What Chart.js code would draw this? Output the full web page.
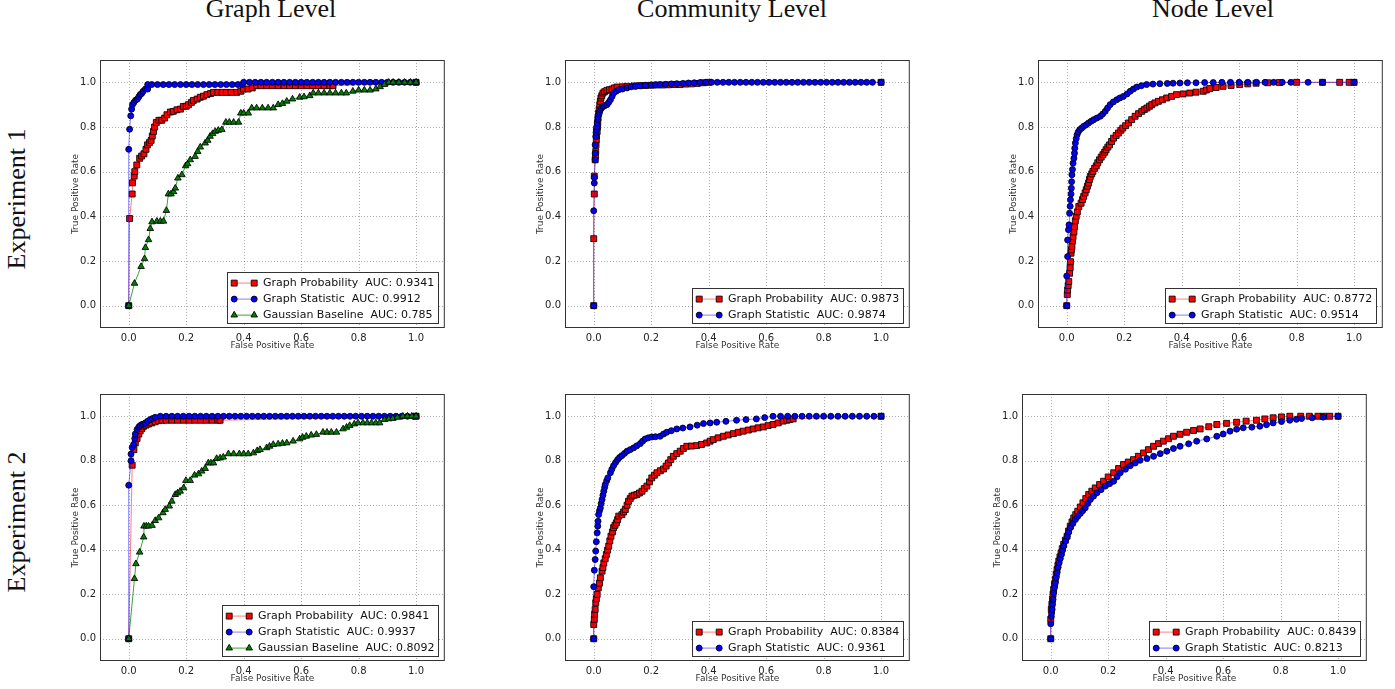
<!DOCTYPE html>
<html>
<head>
<meta charset="utf-8">
<script src="https://cdn.jsdelivr.net/npm/chart.js@4.4.1/dist/chart.umd.min.js"></script>
<style>
  html, body { margin: 0; padding: 0; background: #fff; }
  body { width: 1395px; height: 689px; position: relative; overflow: hidden; }
  canvas { position: absolute; }
  .colTitle, .rowTitle {
    position: absolute; font-family: "Liberation Serif", "Times New Roman", serif;
    font-size: 26px; line-height: 26px; color: #111; white-space: nowrap;
  }
  .colTitle { transform: translateX(-50%); }
  .rowTitle { transform: translate(-50%, -50%) rotate(-90deg); }
</style>
</head>
<body>
<script>
// axis ticks, shared by every panel
const tickVals = [0, 0.2, 0.4, 0.6, 0.8, 1.0];
const tickLabels = ['0.0', '0.2', '0.4', '0.6', '0.8', '1.0'];

const colTitles = ['Graph Level', 'Community Level', 'Node Level'];
const rowTitles = ['Experiment 1', 'Experiment 2'];
const seriesNames = ['Graph Probability', 'Graph Statistic', 'Gaussian Baseline'];

// AUC per panel (legend text)
const aucGraph1 = ['0.9341', '0.9912', '0.785'];
const aucComm1 = ['0.9873', '0.9874'];
const aucNode1 = ['0.8772', '0.9514'];
const aucGraph2 = ['0.9841', '0.9937', '0.8092'];
const aucComm2 = ['0.8384', '0.9361'];
const aucNode2 = ['0.8439', '0.8213'];

// ROC points [fpr, tpr]
const graphProb1 = [[0,0],[0.003,0.39],[0.012,0.50],[0.013,0.55],[0.019,0.58],[0.021,0.60],[0.028,0.63],[0.038,0.66],[0.045,0.67],[0.053,0.68],[0.06,0.70],[0.065,0.72],[0.072,0.73],[0.078,0.74],[0.082,0.76],[0.086,0.78],[0.09,0.80],[0.096,0.82],[0.105,0.83],[0.115,0.83],[0.125,0.84],[0.133,0.855],[0.145,0.867],[0.155,0.87],[0.168,0.877],[0.18,0.88],[0.19,0.892],[0.2,0.893],[0.208,0.9],[0.218,0.91],[0.225,0.919],[0.238,0.925],[0.249,0.933],[0.26,0.938],[0.272,0.945],[0.285,0.95],[0.295,0.955],[0.31,0.955],[0.325,0.955],[0.34,0.955],[0.355,0.955],[0.376,0.955],[0.39,0.96],[0.399,0.97],[0.415,0.97],[0.43,0.975],[0.445,0.985],[0.46,0.985],[0.48,0.985],[0.5,0.985],[0.52,0.985],[0.54,0.985],[0.56,0.985],[0.58,0.985],[0.6,0.985],[0.62,0.985],[0.64,0.985],[0.66,0.985],[0.68,0.985],[0.7,0.985],[0.711,0.985],[1,1]];
const graphStat1 = [[0,0],[0,0.70],[0.003,0.79],[0.007,0.85],[0.01,0.88],[0.013,0.90],[0.018,0.91],[0.024,0.92],[0.03,0.925],[0.035,0.935],[0.04,0.945],[0.045,0.95],[0.05,0.96],[0.058,0.97],[0.066,0.97],[0.066,0.99],[0.08,0.99],[0.1,0.99],[0.12,0.99],[0.14,0.99],[0.16,0.99],[0.18,0.99],[0.2,0.99],[0.22,0.99],[0.24,0.99],[0.26,0.99],[0.28,0.99],[0.3,0.99],[0.32,0.99],[0.34,0.99],[0.36,0.99],[0.38,0.99],[0.395,0.99],[0.4,1],[0.42,1],[0.44,1],[0.46,1],[0.48,1],[0.5,1],[0.52,1],[0.54,1],[0.56,1],[0.58,1],[0.6,1],[0.62,1],[0.64,1],[0.66,1],[0.68,1],[0.7,1],[0.72,1],[0.74,1],[0.76,1],[0.78,1],[0.8,1],[0.82,1],[0.84,1],[0.86,1],[0.88,1],[0.9,1],[0.92,1],[0.94,1],[0.96,1],[0.98,1],[1,1]];
const gaussBase1 = [[0,0],[0.02,0.10],[0.043,0.175],[0.055,0.21],[0.058,0.26],[0.069,0.295],[0.075,0.345],[0.081,0.375],[0.098,0.378],[0.11,0.378],[0.121,0.378],[0.131,0.426],[0.138,0.50],[0.147,0.50],[0.156,0.51],[0.162,0.526],[0.171,0.571],[0.185,0.586],[0.198,0.626],[0.205,0.635],[0.214,0.653],[0.231,0.668],[0.24,0.69],[0.249,0.71],[0.266,0.728],[0.275,0.74],[0.283,0.758],[0.292,0.77],[0.301,0.78],[0.312,0.785],[0.324,0.788],[0.338,0.821],[0.35,0.821],[0.365,0.821],[0.382,0.821],[0.39,0.862],[0.4,0.862],[0.416,0.862],[0.428,0.885],[0.445,0.885],[0.465,0.885],[0.485,0.885],[0.503,0.885],[0.52,0.9],[0.535,0.905],[0.55,0.915],[0.57,0.925],[0.595,0.933],[0.61,0.935],[0.63,0.94],[0.642,0.952],[0.66,0.952],[0.68,0.952],[0.7,0.952],[0.72,0.952],[0.74,0.952],[0.757,0.952],[0.78,0.96],[0.8,0.965],[0.82,0.965],[0.84,0.965],[0.86,0.97],[0.875,0.98],[0.89,0.99],[0.905,1],[0.92,1],[0.94,1],[0.96,1],[0.98,1],[1,1]];

const commProb1 = [[0,0],[0,0.30],[0.002,0.50],[0.002,0.58],[0.005,0.653],[0.006,0.67],[0.007,0.69],[0.008,0.72],[0.009,0.743],[0.01,0.76],[0.012,0.78],[0.013,0.80],[0.014,0.818],[0.015,0.84],[0.017,0.862],[0.019,0.88],[0.021,0.9],[0.023,0.915],[0.025,0.93],[0.028,0.94],[0.032,0.952],[0.038,0.958],[0.046,0.964],[0.055,0.967],[0.064,0.97],[0.072,0.975],[0.081,0.979],[0.1,0.98],[0.116,0.982],[0.14,0.984],[0.16,0.985],[0.18,0.986],[0.2,0.987],[0.22,0.988],[0.24,0.988],[0.26,0.989],[0.28,0.99],[0.3,0.99],[0.32,0.992],[0.34,0.993],[0.36,0.995],[0.38,0.998],[0.4,1],[1,1]];
const commStat1 = [[0,0],[0,0.425],[0.002,0.549],[0.002,0.575],[0.005,0.653],[0.005,0.683],[0.005,0.72],[0.007,0.758],[0.008,0.775],[0.009,0.788],[0.01,0.8],[0.012,0.818],[0.014,0.833],[0.015,0.845],[0.017,0.855],[0.02,0.865],[0.023,0.877],[0.027,0.885],[0.032,0.892],[0.038,0.895],[0.046,0.9],[0.052,0.91],[0.058,0.922],[0.064,0.937],[0.069,0.952],[0.078,0.96],[0.087,0.967],[0.1,0.97],[0.116,0.975],[0.13,0.98],[0.145,0.982],[0.162,0.985],[0.18,0.987],[0.2,0.988],[0.215,0.989],[0.231,0.99],[0.25,0.991],[0.27,0.993],[0.289,0.994],[0.31,0.995],[0.33,0.997],[0.35,0.998],[0.37,0.999],[0.39,1],[0.41,1],[0.43,1],[0.45,1],[0.47,1],[0.49,1],[0.51,1],[0.53,1],[0.55,1],[0.57,1],[0.59,1],[0.61,1],[0.63,1],[0.65,1],[0.67,1],[0.69,1],[0.71,1],[0.73,1],[0.75,1],[0.77,1],[0.79,1],[0.81,1],[0.83,1],[0.85,1],[0.87,1],[0.89,1],[0.91,1],[0.93,1],[0.95,1],[0.97,1],[1,1]];

const nodeProb1 = [[0,0],[0.002,0.05],[0.003,0.07],[0.005,0.09],[0.007,0.108],[0.01,0.145],[0.012,0.17],[0.013,0.197],[0.015,0.235],[0.016,0.25],[0.018,0.265],[0.02,0.29],[0.022,0.309],[0.025,0.33],[0.027,0.354],[0.03,0.38],[0.033,0.4],[0.037,0.42],[0.042,0.444],[0.05,0.459],[0.055,0.475],[0.059,0.489],[0.064,0.505],[0.068,0.519],[0.072,0.535],[0.076,0.549],[0.079,0.565],[0.082,0.578],[0.087,0.59],[0.091,0.601],[0.097,0.615],[0.103,0.626],[0.108,0.64],[0.114,0.653],[0.12,0.665],[0.126,0.676],[0.132,0.687],[0.137,0.698],[0.143,0.71],[0.149,0.72],[0.156,0.735],[0.163,0.75],[0.172,0.762],[0.18,0.773],[0.188,0.785],[0.195,0.795],[0.205,0.806],[0.215,0.818],[0.226,0.833],[0.238,0.848],[0.25,0.86],[0.261,0.87],[0.27,0.878],[0.279,0.885],[0.288,0.893],[0.296,0.9],[0.307,0.908],[0.319,0.915],[0.333,0.922],[0.348,0.93],[0.365,0.937],[0.382,0.945],[0.405,0.948],[0.428,0.952],[0.45,0.956],[0.475,0.96],[0.486,0.966],[0.498,0.972],[0.52,0.977],[0.544,0.982],[0.572,0.986],[0.602,0.99],[0.63,0.993],[0.659,0.996],[0.7,0.998],[0.74,0.999],[0.8,1],[0.89,1],[0.95,1],[0.983,1],[1,1]];
const nodeStat1 = [[0,0],[0,0.133],[0.003,0.22],[0.003,0.294],[0.006,0.34],[0.008,0.362],[0.01,0.414],[0.012,0.445],[0.013,0.474],[0.015,0.5],[0.016,0.526],[0.017,0.555],[0.018,0.586],[0.02,0.61],[0.022,0.638],[0.025,0.66],[0.027,0.683],[0.028,0.705],[0.03,0.728],[0.033,0.748],[0.036,0.765],[0.04,0.778],[0.045,0.788],[0.052,0.795],[0.059,0.803],[0.068,0.81],[0.076,0.818],[0.085,0.826],[0.094,0.833],[0.105,0.84],[0.117,0.848],[0.125,0.858],[0.134,0.87],[0.142,0.885],[0.151,0.9],[0.162,0.912],[0.174,0.922],[0.185,0.93],[0.197,0.937],[0.21,0.948],[0.221,0.96],[0.232,0.97],[0.244,0.979],[0.26,0.985],[0.278,0.99],[0.3,0.992],[0.324,0.994],[0.35,0.995],[0.37,0.996],[0.394,0.997],[0.42,0.998],[0.45,0.998],[0.48,0.999],[0.51,0.999],[0.54,1],[0.57,1],[0.6,1],[0.63,1],[0.66,1],[0.69,1],[0.72,1],[0.75,1],[0.78,1],[0.84,1],[0.89,1],[1,1]];

const graphProb2 = [[0,0],[0.012,0.78],[0.018,0.85],[0.023,0.88],[0.029,0.9],[0.035,0.92],[0.04,0.935],[0.046,0.945],[0.052,0.955],[0.06,0.96],[0.069,0.965],[0.08,0.97],[0.092,0.975],[0.104,0.98],[0.116,0.982],[0.13,0.982],[0.15,0.982],[0.17,0.982],[0.19,0.982],[0.21,0.982],[0.23,0.982],[0.25,0.982],[0.27,0.982],[0.29,0.982],[0.31,0.982],[0.318,0.982],[1,1]];
const graphStat2 = [[0,0],[0,0.69],[0.008,0.8],[0.008,0.83],[0.012,0.86],[0.017,0.873],[0.021,0.9],[0.023,0.92],[0.029,0.94],[0.035,0.952],[0.04,0.958],[0.046,0.963],[0.052,0.965],[0.058,0.97],[0.066,0.978],[0.075,0.985],[0.083,0.99],[0.092,0.995],[0.11,1],[0.13,1],[0.15,1],[0.17,1],[0.19,1],[0.21,1],[0.23,1],[0.25,1],[0.27,1],[0.29,1],[0.31,1],[0.33,1],[0.35,1],[0.37,1],[0.39,1],[0.41,1],[0.43,1],[0.45,1],[0.47,1],[0.49,1],[0.51,1],[0.53,1],[0.55,1],[0.57,1],[0.59,1],[0.61,1],[0.63,1],[0.65,1],[0.67,1],[0.69,1],[0.71,1],[0.73,1],[0.75,1],[0.77,1],[0.79,1],[0.81,1],[0.83,1],[0.85,1],[0.87,1],[0.89,1],[0.91,1],[0.93,1],[0.95,1],[0.97,1],[0.99,1],[1,1]];
const gaussBase2 = [[0,0],[0.02,0.27],[0.025,0.337],[0.038,0.389],[0.052,0.457],[0.053,0.506],[0.061,0.506],[0.069,0.506],[0.081,0.509],[0.092,0.531],[0.104,0.543],[0.119,0.566],[0.127,0.581],[0.141,0.596],[0.15,0.618],[0.162,0.648],[0.17,0.655],[0.179,0.663],[0.191,0.678],[0.199,0.711],[0.214,0.711],[0.229,0.735],[0.243,0.741],[0.254,0.753],[0.266,0.765],[0.277,0.79],[0.286,0.79],[0.295,0.79],[0.306,0.81],[0.318,0.812],[0.329,0.816],[0.347,0.831],[0.365,0.831],[0.385,0.831],[0.4,0.831],[0.416,0.831],[0.434,0.835],[0.447,0.845],[0.457,0.85],[0.48,0.858],[0.49,0.865],[0.503,0.873],[0.52,0.875],[0.535,0.878],[0.55,0.88],[0.572,0.888],[0.595,0.898],[0.605,0.905],[0.618,0.91],[0.635,0.915],[0.653,0.918],[0.676,0.928],[0.69,0.928],[0.705,0.928],[0.723,0.928],[0.746,0.943],[0.758,0.95],[0.769,0.958],[0.785,0.965],[0.798,0.97],[0.815,0.97],[0.83,0.97],[0.845,0.97],[0.86,0.97],[0.873,0.97],[0.89,0.985],[0.905,0.988],[0.919,0.99],[0.935,0.995],[0.954,1],[0.97,1],[0.985,1],[1,1]];

const commProb2 = [[0,0],[0,0.064],[0.002,0.087],[0.003,0.11],[0.005,0.132],[0.007,0.162],[0.009,0.18],[0.012,0.199],[0.016,0.229],[0.02,0.25],[0.023,0.274],[0.029,0.304],[0.032,0.32],[0.035,0.341],[0.04,0.36],[0.044,0.379],[0.048,0.398],[0.052,0.416],[0.056,0.44],[0.06,0.461],[0.065,0.48],[0.069,0.499],[0.074,0.51],[0.079,0.521],[0.083,0.535],[0.087,0.551],[0.098,0.558],[0.104,0.57],[0.11,0.581],[0.116,0.6],[0.121,0.618],[0.127,0.63],[0.133,0.641],[0.141,0.645],[0.15,0.648],[0.159,0.655],[0.168,0.663],[0.176,0.675],[0.185,0.686],[0.194,0.705],[0.202,0.723],[0.211,0.735],[0.22,0.746],[0.232,0.755],[0.243,0.763],[0.252,0.776],[0.26,0.79],[0.268,0.805],[0.277,0.82],[0.289,0.832],[0.301,0.843],[0.312,0.855],[0.324,0.865],[0.34,0.866],[0.358,0.868],[0.375,0.873],[0.393,0.88],[0.405,0.888],[0.416,0.895],[0.433,0.903],[0.451,0.91],[0.468,0.916],[0.486,0.922],[0.503,0.928],[0.52,0.933],[0.538,0.938],[0.555,0.943],[0.572,0.948],[0.59,0.952],[0.607,0.958],[0.624,0.963],[0.642,0.97],[0.659,0.978],[0.672,0.982],[0.682,0.985],[0.694,0.988],[1,1]];
const commStat2 = [[0,0],[0,0.234],[0.002,0.308],[0.005,0.356],[0.007,0.394],[0.009,0.436],[0.012,0.476],[0.014,0.506],[0.015,0.528],[0.017,0.558],[0.02,0.575],[0.023,0.588],[0.026,0.608],[0.029,0.626],[0.032,0.645],[0.035,0.663],[0.038,0.68],[0.04,0.693],[0.045,0.71],[0.049,0.723],[0.058,0.746],[0.063,0.762],[0.069,0.778],[0.076,0.792],[0.083,0.805],[0.09,0.815],[0.098,0.823],[0.107,0.833],[0.116,0.843],[0.127,0.85],[0.139,0.858],[0.15,0.867],[0.162,0.877],[0.17,0.888],[0.179,0.898],[0.19,0.903],[0.202,0.907],[0.215,0.908],[0.231,0.91],[0.243,0.92],[0.254,0.928],[0.27,0.935],[0.289,0.943],[0.31,0.947],[0.335,0.952],[0.36,0.96],[0.382,0.967],[0.405,0.97],[0.428,0.973],[0.46,0.977],[0.497,0.982],[0.53,0.985],[0.566,0.988],[0.595,0.994],[0.624,1],[0.65,1],[0.675,1],[0.7,1],[0.725,1],[0.75,1],[0.775,1],[0.8,1],[0.825,1],[0.85,1],[0.875,1],[0.9,1],[0.925,1],[0.95,1],[0.975,1],[1,1]];

const nodeProb2 = [[0,0],[0,0.087],[0.002,0.132],[0.004,0.155],[0.006,0.177],[0.008,0.2],[0.01,0.222],[0.013,0.245],[0.016,0.266],[0.019,0.29],[0.022,0.311],[0.025,0.33],[0.028,0.349],[0.032,0.368],[0.036,0.386],[0.04,0.405],[0.045,0.424],[0.051,0.443],[0.057,0.461],[0.062,0.484],[0.068,0.506],[0.074,0.525],[0.08,0.543],[0.087,0.558],[0.094,0.573],[0.103,0.592],[0.112,0.611],[0.122,0.63],[0.132,0.648],[0.143,0.663],[0.155,0.678],[0.17,0.693],[0.184,0.708],[0.2,0.727],[0.219,0.746],[0.236,0.765],[0.253,0.783],[0.27,0.794],[0.288,0.805],[0.305,0.82],[0.323,0.835],[0.34,0.85],[0.358,0.865],[0.375,0.877],[0.392,0.888],[0.41,0.899],[0.427,0.91],[0.45,0.919],[0.473,0.928],[0.497,0.936],[0.52,0.943],[0.55,0.953],[0.578,0.963],[0.612,0.968],[0.647,0.973],[0.68,0.978],[0.716,0.982],[0.745,0.988],[0.774,0.993],[0.803,0.997],[0.832,1],[0.87,1],[0.9,1],[0.93,1],[0.95,1],[0.971,1],[1,1]];
const nodeStat2 = [[0,0],[0,0.067],[0.002,0.1],[0.003,0.115],[0.005,0.132],[0.006,0.155],[0.008,0.177],[0.01,0.207],[0.013,0.23],[0.016,0.251],[0.019,0.275],[0.022,0.296],[0.025,0.32],[0.029,0.341],[0.033,0.36],[0.037,0.379],[0.041,0.398],[0.045,0.416],[0.051,0.44],[0.057,0.461],[0.062,0.48],[0.068,0.499],[0.077,0.518],[0.086,0.536],[0.094,0.55],[0.103,0.563],[0.111,0.575],[0.12,0.588],[0.129,0.608],[0.138,0.626],[0.149,0.641],[0.161,0.656],[0.175,0.67],[0.19,0.686],[0.205,0.697],[0.219,0.708],[0.231,0.728],[0.242,0.746],[0.26,0.762],[0.277,0.778],[0.294,0.79],[0.311,0.802],[0.335,0.81],[0.358,0.82],[0.381,0.832],[0.404,0.843],[0.427,0.855],[0.45,0.865],[0.48,0.876],[0.508,0.888],[0.543,0.898],[0.578,0.91],[0.6,0.92],[0.624,0.933],[0.647,0.942],[0.67,0.948],[0.7,0.951],[0.728,0.955],[0.751,0.962],[0.774,0.97],[0.803,0.976],[0.832,0.982],[0.855,0.986],[0.873,0.99],[0.91,0.993],[0.948,0.996],[1,1]];

// look of each series: red squares, blue circles, green triangles
const styles = [
  { line: 'rgba(255,0,0,0.5)', fill: '#ff0000', shape: 'rect', r: 4.2, order: 3 },
  { line: 'rgba(0,0,255,0.5)', fill: '#0000ff', shape: 'circle', r: 3, order: 2 },
  { line: 'rgba(0,128,0,0.75)', fill: '#008000', shape: 'triangle', r: 3.8, order: 1 }
];
const edgeColor = 'rgba(0,0,0,0.85)';

// where each panel sits on the page (canvas left/top)
const panels = [
  { left: 60,  top: 50,  h: 306, series: [graphProb1, graphStat1, gaussBase1], auc: aucGraph1 },
  { left: 525, top: 50,  h: 306, series: [commProb1, commStat1], auc: aucComm1 },
  { left: 998, top: 50,  h: 306, series: [nodeProb1, nodeStat1], auc: aucNode1 },
  { left: 60,  top: 384, h: 305, series: [graphProb2, graphStat2, gaussBase2], auc: aucGraph2 },
  { left: 525, top: 384, h: 305, series: [commProb2, commStat2], auc: aucComm2 },
  { left: 982, top: 384, h: 305, series: [nodeProb2, nodeStat2], auc: aucNode2 }
];

Chart.defaults.font.family = '"DejaVu Sans", sans-serif';
Chart.defaults.color = '#222';

const FONT = '"DejaVu Sans", sans-serif';

function drawMarker(ctx, shape, r, x, y, st) {
  ctx.fillStyle = st.fill;
  ctx.strokeStyle = edgeColor;
  ctx.lineWidth = 1;
  ctx.beginPath();
  if (shape === 'rect') {
    const s = r * Math.SQRT1_2;
    ctx.rect(x - s, y - s, 2 * s, 2 * s);
  } else if (shape === 'circle') {
    ctx.arc(x, y, r, 0, Math.PI * 2);
  } else {
    ctx.moveTo(x, y - r);
    ctx.lineTo(x + r * 0.866, y + r * 0.5);
    ctx.lineTo(x - r * 0.866, y + r * 0.5);
    ctx.closePath();
  }
  ctx.fill();
  ctx.stroke();
}

const gridPlugin = {
  id: 'dotGrid',
  beforeDatasetsDraw(chart) {
    const { ctx, chartArea: a, scales } = chart;
    ctx.save();
    ctx.strokeStyle = 'rgba(0,0,0,0.4)';
    ctx.lineWidth = 0.8;
    ctx.setLineDash([1, 2]);
    tickVals.forEach(v => {
      const x = Math.round(scales.x.getPixelForValue(v)) + 0.5;
      const y = Math.round(scales.y.getPixelForValue(v)) + 0.5;
      ctx.beginPath(); ctx.moveTo(x, a.top); ctx.lineTo(x, a.bottom); ctx.stroke();
      ctx.beginPath(); ctx.moveTo(a.left, y); ctx.lineTo(a.right, y); ctx.stroke();
    });
    ctx.restore();
  }
};

const framePlugin = {
  id: 'frameLegend',
  afterDraw(chart) {
    const { ctx, chartArea: a } = chart;
    ctx.save();
    // axes box
    ctx.strokeStyle = '#333';
    ctx.lineWidth = 1;
    ctx.strokeRect(a.left + 0.5, a.top + 0.5, a.right - a.left - 1, a.bottom - a.top - 1);

    // axis titles
    ctx.fillStyle = '#333';
    ctx.font = '9px ' + FONT;
    ctx.textAlign = 'center';
    ctx.textBaseline = 'middle';
    ctx.fillText('False Positive Rate', (a.left + a.right) / 2, a.bottom + 18);
    ctx.save();
    ctx.translate(a.left - 24, (a.top + a.bottom) / 2);
    ctx.rotate(-Math.PI / 2);
    ctx.fillText('True Positive Rate', 0, 0);
    ctx.restore();

    // legend, lower right
    const sets = chart.data.datasets;
    ctx.font = '11px ' + FONT;
    let tw = 0;
    sets.forEach(d => { tw = Math.max(tw, ctx.measureText(d.label).width); });
    const w = 6.7 + 20 + 8.7 + tw + 4.3;
    const h = 10.6 + 16 * (sets.length - 1) + 8;
    const lx = Math.round(a.right - 6.5 - w) + 0.5;
    const ly = Math.round(a.bottom - 5.7 - h) + 0.5;
    ctx.fillStyle = '#fff';
    ctx.fillRect(lx, ly, w, h);
    ctx.strokeStyle = '#333';
    ctx.lineWidth = 1;
    ctx.strokeRect(lx, ly, Math.round(w), Math.round(h));
    sets.forEach((d, i) => {
      const st = styles[i];
      const cy = ly + 10.6 + 16 * i;
      const x0 = lx + 6.7, x1 = x0 + 20;
      ctx.strokeStyle = st.line;
      ctx.lineWidth = 1;
      ctx.beginPath(); ctx.moveTo(x0, cy); ctx.lineTo(x1, cy); ctx.stroke();
      drawMarker(ctx, st.shape, st.r, x0, cy, st);
      drawMarker(ctx, st.shape, st.r, x1, cy, st);
      ctx.fillStyle = '#111';
      ctx.textAlign = 'left';
      ctx.textBaseline = 'middle';
      ctx.fillText(d.label, x1 + 8.7, cy + 0.5);
    });
    ctx.restore();
  }
};

function makePanel(p) {
  const cv = document.createElement('canvas');
  cv.width = 390;
  cv.height = p.h;
  cv.style.left = p.left + 'px';
  cv.style.top = p.top + 'px';
  cv.style.width = '390px';
  cv.style.height = p.h + 'px';
  document.body.appendChild(cv);

  const datasets = p.series.map((pts, i) => ({
    label: seriesNames[i] + '  AUC: ' + p.auc[i],
    data: pts,
    showLine: true,
    borderColor: styles[i].line,
    borderWidth: 1,
    backgroundColor: styles[i].fill,
    pointBackgroundColor: styles[i].fill,
    pointBorderColor: edgeColor,
    pointBorderWidth: 1,
    pointStyle: styles[i].shape,
    pointRadius: styles[i].r,
    order: styles[i].order,
    clip: 6
  }));

  const axis = (fit) => ({
    type: 'linear',
    min: -0.1,
    max: 1.1,
    afterBuildTicks: s => { s.ticks = tickVals.map(v => ({ value: v })); },
    afterFit: fit,
    grid: { display: false, drawTicks: false },
    border: { display: false },
    ticks: {
      font: { size: 10 },
      color: '#222',
      padding: 4,
      maxRotation: 0,
      callback: (v, i) => tickLabels[i]
    }
  });

  new Chart(cv, {
    type: 'scatter',
    data: { datasets },
    options: {
      responsive: false,
      animation: false,
      devicePixelRatio: 1,
      layout: { padding: { left: 0, right: 4, top: 10, bottom: 0 } },
      plugins: { legend: { display: false }, tooltip: { enabled: false } },
      scales: {
        x: axis(s => { s.height = 28; }),
        y: axis(s => { s.width = 40; })
      }
    },
    plugins: [gridPlugin, framePlugin]
  });
}

panels.forEach(makePanel);

// column and row headings
const colX = [271, 732, 1213];
colTitles.forEach((t, i) => {
  const d = document.createElement('div');
  d.className = 'colTitle';
  d.textContent = t;
  d.style.left = colX[i] + 'px';
  d.style.top = '-4px';
  document.body.appendChild(d);
});
const rowY = [199, 522];
rowTitles.forEach((t, i) => {
  const d = document.createElement('div');
  d.className = 'rowTitle';
  d.textContent = t;
  d.style.left = '17px';
  d.style.top = rowY[i] + 'px';
  document.body.appendChild(d);
});
</script>
</body>
</html>
